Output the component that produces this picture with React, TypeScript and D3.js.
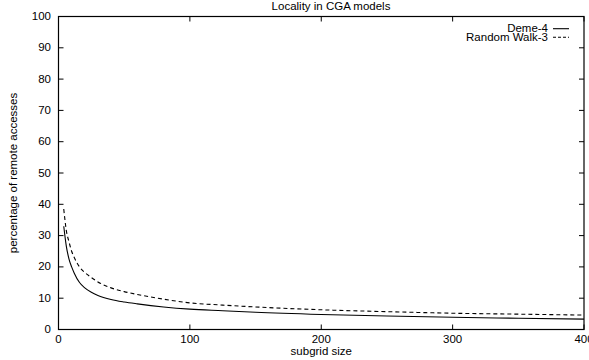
import React from 'react';
import * as d3 from 'd3';

// subgrid sizes and the two series
const subgridSizes = [4, 6, 8, 10, 12, 16, 20, 25, 30, 40, 50, 60, 80, 100, 125, 150, 200, 250, 300, 350, 400];
const deme4 = [33, 26.5, 22.5, 20, 18, 15, 13.3, 11.9, 10.9, 9.6, 8.8, 8.2, 7.2, 6.5, 6.0, 5.5, 4.8, 4.3, 3.9, 3.6, 3.3];
const randomWalk3 = [38.5, 31.5, 28, 25, 23, 20, 18.2, 16.6, 15.2, 13.3, 12.1, 11.2, 9.7, 8.5, 7.8, 7.2, 6.3, 5.7, 5.2, 4.9, 4.6];
const xTicks = [0, 100, 200, 300, 400];
const yTicks = [0, 10, 20, 30, 40, 50, 60, 70, 80, 90, 100];

const W = 589;
const H = 360;
const left = 58.5, right = 584, top = 16.5, bottom = 329.5;
const font = '"Liberation Sans", Arial, Helvetica, sans-serif';
const fs = 10;
const sx = 1.15; // text in the picture is a little wide

const Txt = ({ x, y, anchor = 'start', rotate = 0, children }: any) => (
    <text
        transform={`translate(${x},${y}) rotate(${rotate}) scale(${sx},1)`}
        textAnchor={anchor}
        fontFamily={font}
        fontSize={fs}
        fill="#000"
    >
        {children}
    </text>
);

const App = () => {
    const x = d3.scaleLinear().domain([0, 400]).range([left, right]);
    const y = d3.scaleLinear().domain([0, 100]).range([bottom, top]);

    const line = d3.line<number>()
        .x((d, i) => x(subgridSizes[i]))
        .y(d => y(d))
        .curve(d3.curveMonotoneX);

    return (
        <svg width={W} height={H} style={{ position: 'absolute', left: 0, top: 0, background: '#fff' }}>
            <rect x={0} y={0} width={W} height={H} fill="#fff" />

            {/* ticks, mirrored on all sides like gnuplot */}
            {yTicks.map(t => (
                <g key={'y' + t}>
                    <line x1={left} x2={left + 5} y1={y(t)} y2={y(t)} stroke="#000" />
                    <line x1={right} x2={right - 5} y1={y(t)} y2={y(t)} stroke="#000" />
                    <Txt x={51} y={y(t) + 3.5} anchor="end">{t}</Txt>
                </g>
            ))}
            {xTicks.map(t => (
                <g key={'x' + t}>
                    <line x1={x(t)} x2={x(t)} y1={bottom} y2={bottom - 5} stroke="#000" />
                    <line x1={x(t)} x2={x(t)} y1={top} y2={top + 5} stroke="#000" />
                    <Txt x={x(t)} y={343} anchor="middle">{t}</Txt>
                </g>
            ))}

            <rect x={left} y={top} width={right - left} height={bottom - top} fill="none" stroke="#000" strokeWidth={1.2} />

            <path d={line(deme4) || ''} fill="none" stroke="#000" strokeWidth={1.1} />
            <path d={line(randomWalk3) || ''} fill="none" stroke="#000" strokeWidth={1.1} strokeDasharray="4,3" />

            {/* legend */}
            <Txt x={548} y={32} anchor="end">Deme-4</Txt>
            <line x1={553} x2={569} y1={28.7} y2={28.7} stroke="#000" strokeWidth={1.1} />
            <Txt x={548} y={40.5} anchor="end">Random Walk-3</Txt>
            <line x1={553} x2={569} y1={37.2} y2={37.2} stroke="#000" strokeWidth={1.1} strokeDasharray="3,2" />

            <Txt x={331} y={10} anchor="middle">Locality in CGA models</Txt>
            <Txt x={(left + right) / 2} y={354.5} anchor="middle">subgrid size</Txt>
            <Txt x={17} y={(top + bottom) / 2} anchor="middle" rotate={-90}>percentage of remote accesses</Txt>
        </svg>
    );
};

export default App;
